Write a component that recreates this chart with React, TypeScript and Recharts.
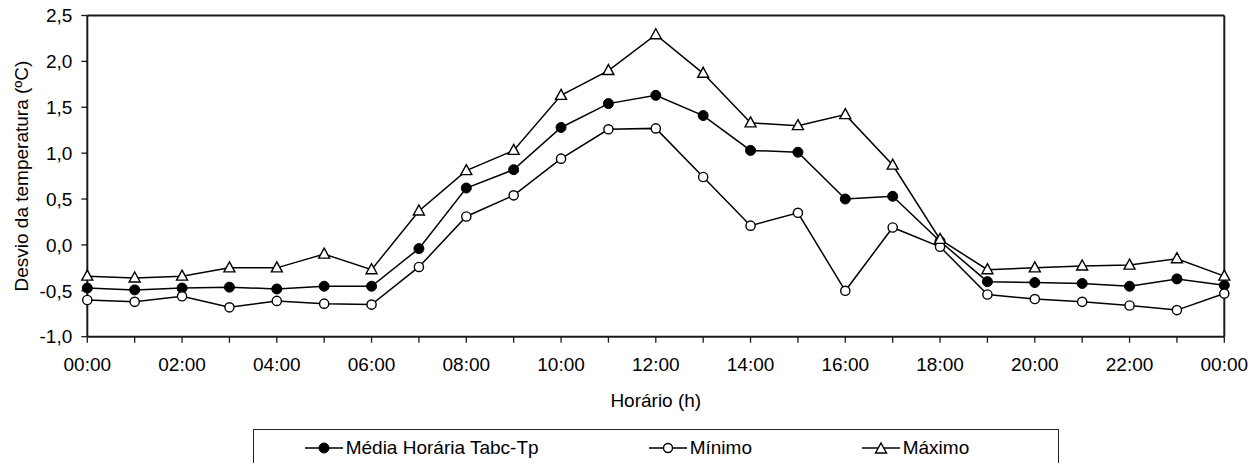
import React from 'react';
import { LineChart, Line, XAxis, YAxis, ReferenceLine, Legend, Label } from 'recharts';

const hours = [0, 1, 2, 3, 4, 5, 6, 7, 8, 9, 10, 11, 12, 13, 14, 15, 16, 17, 18, 19, 20, 21, 22, 23, 24];
const hourLabels = [
  '00:00', '01:00', '02:00', '03:00', '04:00', '05:00', '06:00', '07:00', '08:00', '09:00', '10:00', '11:00',
  '12:00', '13:00', '14:00', '15:00', '16:00', '17:00', '18:00', '19:00', '20:00', '21:00', '22:00', '23:00', '00:00',
];
const yTicks = [-1, -0.5, 0, 0.5, 1, 1.5, 2, 2.5];

const media = [-0.47, -0.49, -0.47, -0.46, -0.48, -0.45, -0.45, -0.04, 0.62, 0.82, 1.28, 1.54, 1.63, 1.41, 1.03, 1.01, 0.5, 0.53, 0.04, -0.4, -0.41, -0.42, -0.45, -0.37, -0.44];
const minimo = [-0.6, -0.62, -0.56, -0.68, -0.61, -0.64, -0.65, -0.24, 0.31, 0.54, 0.94, 1.26, 1.27, 0.74, 0.21, 0.35, -0.5, 0.19, -0.02, -0.54, -0.59, -0.62, -0.66, -0.71, -0.53];
const maximo = [-0.34, -0.36, -0.34, -0.25, -0.25, -0.1, -0.27, 0.37, 0.81, 1.03, 1.63, 1.9, 2.29, 1.87, 1.33, 1.3, 1.42, 0.87, 0.06, -0.27, -0.25, -0.23, -0.22, -0.15, -0.34];

const seriesNames = ['Média Horária Tabc-Tp', 'Mínimo', 'Máximo'];
const yLabel = 'Desvio da temperatura (ºC)';
const xLabel = 'Horário (h)';

const data = hours.map((h, i) => ({ h, media: media[i], minimo: minimo[i], maximo: maximo[i] }));

const FONT = '"Liberation Sans", Arial, sans-serif';
const AXIS = '#1a1a1a';

const triPath = (cx: number, cy: number) =>
  `M${cx},${cy - 6} L${cx + 5.5},${cy + 4} L${cx - 5.5},${cy + 4} Z`;

const TriDot = (props: any) => {
  const { cx, cy, index } = props;
  if (cx == null || cy == null) return <g key={`t${index}`} />;
  return <path key={`t${index}`} d={triPath(cx, cy)} fill="#fff" stroke="#000" strokeWidth={1.4} />;
};

const LegendIcon = ({ kind }: { kind: number }) => (
  <svg width={38} height={22} style={{ display: 'block' }}>
    <line x1={0} y1={11} x2={38} y2={11} stroke="#000" strokeWidth={1.5} />
    {kind === 0 && <circle cx={19} cy={11} r={5} fill="#000" stroke="#000" strokeWidth={1} />}
    {kind === 1 && <circle cx={19} cy={11} r={4.5} fill="#fff" stroke="#000" strokeWidth={1.4} />}
    {kind === 2 && <path d={triPath(19, 12)} fill="#fff" stroke="#000" strokeWidth={1.4} />}
  </svg>
);

const legendLeft = [51, 395, 608];

const renderLegend = () => (
  <div
    style={{
      position: 'relative',
      width: 806,
      height: 60,
      border: '1.3px solid #222',
      boxSizing: 'border-box',
      fontFamily: FONT,
      fontSize: 19,
      color: '#000',
      background: '#fff',
    }}
  >
    {seriesNames.map((name, i) => (
      <div
        key={name}
        style={{
          position: 'absolute',
          left: legendLeft[i],
          top: 6.5,
          height: 22,
          display: 'flex',
          alignItems: 'center',
          whiteSpace: 'nowrap',
        }}
      >
        <LegendIcon kind={i} />
        <span style={{ marginLeft: 3, lineHeight: '22px' }}>{name}</span>
      </div>
    ))}
  </div>
);

const fmtY = (v: number) => v.toFixed(1).replace('.', ',');
const fmtX = (v: number) => (v % 2 === 0 ? hourLabels[v] : '');

export default function App() {
  return (
    <div style={{ position: 'absolute', left: 0, top: 0, width: 1260, height: 463, overflow: 'hidden', background: '#fff' }}>
      <LineChart
        width={1260}
        height={463}
        data={data}
        margin={{ top: 15.5, right: 35.7, left: 0.3, bottom: 86.3 }}
      >
        <XAxis
          dataKey="h"
          type="number"
          domain={[0, 24]}
          ticks={hours}
          interval={0}
          tickFormatter={fmtX}
          height={40}
          stroke={AXIS}
          strokeWidth={2}
          tickSize={6}
          tickMargin={15}
          tick={{ fill: '#000', fontSize: 19, fontFamily: FONT }}
          tickLine={{ stroke: AXIS, strokeWidth: 1.3 }}
        >
          <Label
            content={(p: any) => {
              const vb = p.viewBox || { x: 0, width: 0 };
              const cx = vb.x + vb.width / 2;
              return (
                <text x={cx} y={400} textAnchor="middle" dominantBaseline="central" fontSize={19} fontFamily={FONT} fill="#000">
                  {xLabel}
                </text>
              );
            }}
          />
        </XAxis>
        <YAxis
          type="number"
          domain={[-1, 2.5]}
          ticks={yTicks}
          interval={0}
          tickFormatter={fmtY}
          width={87}
          stroke={AXIS}
          strokeWidth={2}
          tickSize={6}
          tickMargin={9}
          tick={{ fill: '#000', fontSize: 19, fontFamily: FONT }}
          tickLine={{ stroke: AXIS, strokeWidth: 1.3 }}
        >
          <Label
            content={(p: any) => {
              const vb = p.viewBox || { y: 0, height: 0 };
              const cy = vb.y + vb.height / 2;
              return (
                <text
                  x={22}
                  y={cy}
                  transform={`rotate(-90 22 ${cy})`}
                  textAnchor="middle"
                  dominantBaseline="central"
                  fontSize={19}
                  fontFamily={FONT}
                  fill="#000"
                >
                  {yLabel}
                </text>
              );
            }}
          />
        </YAxis>
        <ReferenceLine y={2.5} stroke={AXIS} strokeWidth={2} ifOverflow="extendDomain" />
        <ReferenceLine x={24} stroke={AXIS} strokeWidth={2} ifOverflow="extendDomain" />
        <Legend
          layout="horizontal"
          verticalAlign="middle"
          align="center"
          content={renderLegend}
          wrapperStyle={{ left: 252.7, top: 429.3, width: 806, height: 60 }}
        />
        <Line
          name={seriesNames[0]}
          dataKey="media"
          stroke="#000"
          strokeWidth={1.5}
          dot={{ r: 5, fill: '#000', stroke: '#000', strokeWidth: 1 }}
          isAnimationActive={false}
        />
        <Line
          name={seriesNames[1]}
          dataKey="minimo"
          stroke="#000"
          strokeWidth={1.5}
          dot={{ r: 4.6, fill: '#fff', stroke: '#000', strokeWidth: 1.4 }}
          isAnimationActive={false}
        />
        <Line
          name={seriesNames[2]}
          dataKey="maximo"
          stroke="#000"
          strokeWidth={1.5}
          dot={(p: any) => <TriDot {...p} key={`tri-${p.index}`} />}
          isAnimationActive={false}
        />
      </LineChart>
    </div>
  );
}
